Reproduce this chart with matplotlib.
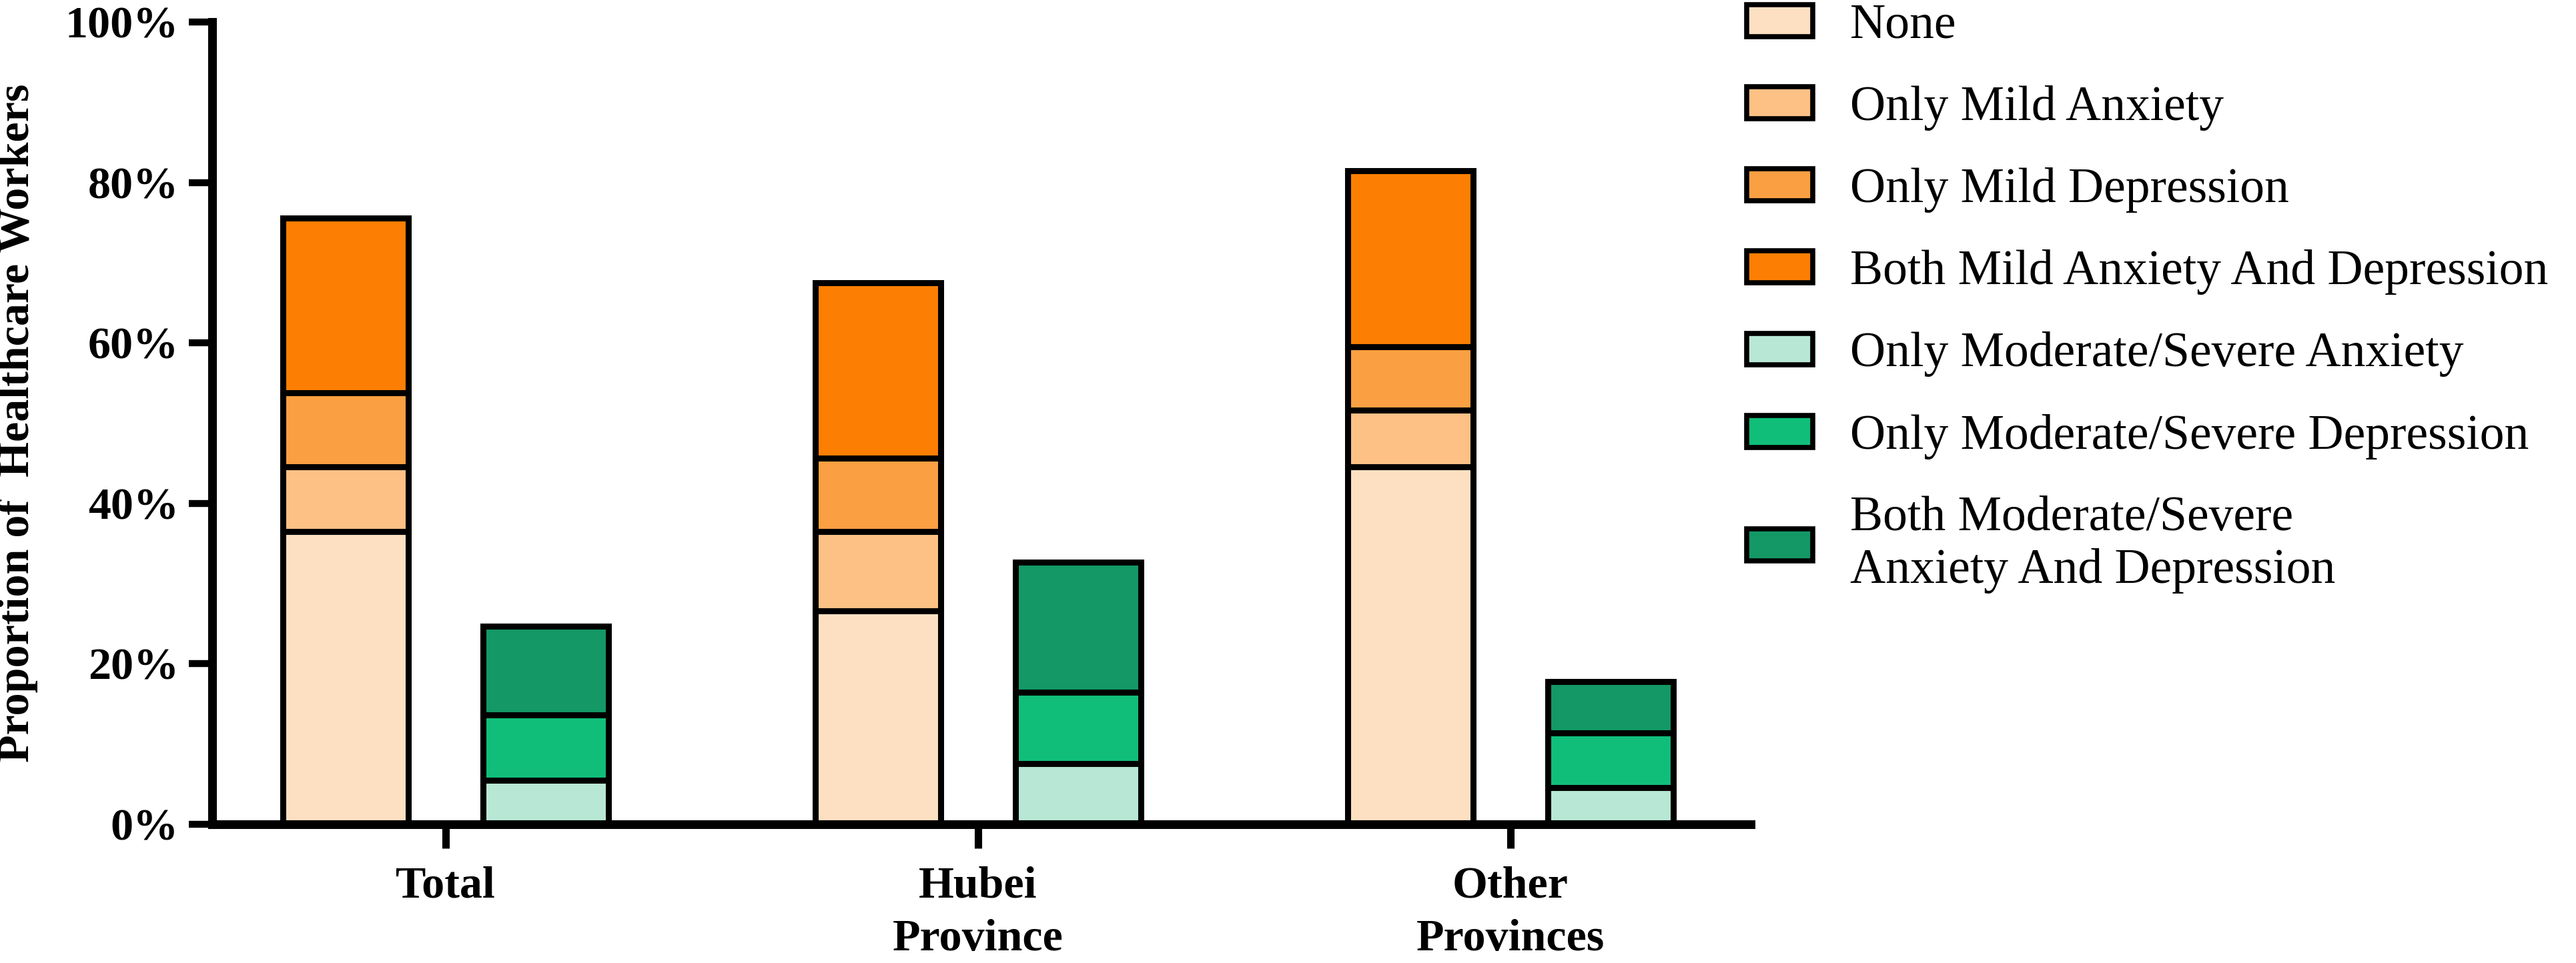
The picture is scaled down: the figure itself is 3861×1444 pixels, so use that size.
import numpy as np
import matplotlib
matplotlib.use('Agg')
import matplotlib.pyplot as plt
from matplotlib.patches import Patch

plt.rcParams['font.family'] = ['Liberation Serif', 'DejaVu Serif']

###########                 Data                 ###########
#----------------------------------------------------------#
groups = ['Total', 'Hubei\nProvince', 'Other\nProvinces']

# mild stack (left bar of each group), percent
none_vals = [36.5, 26.6, 44.6]
mild_anx = [8.1, 9.9, 7.0]
mild_dep = [9.2, 9.1, 7.9]
both_mild = [21.8, 21.9, 22.0]

# moderate/severe stack (right bar of each group), percent
mod_anx = [5.5, 7.6, 4.6]
mod_dep = [8.1, 8.9, 6.8]
both_mod = [11.1, 16.2, 6.4]

mild_labels = ['None', 'Only Mild Anxiety', 'Only Mild Depression',
               'Both Mild Anxiety And Depression']
mod_labels = ['Only Moderate/Severe Anxiety', 'Only Moderate/Severe Depression',
              'Both Moderate/Severe\nAnxiety And Depression']

mild_colors = ['#FDE0C1', '#FDC185', '#FBA042', '#FC7F03']
mod_colors = ['#B8E8D5', '#10BE7A', '#149866']

yticks = [0, 20, 40, 60, 80, 100]
ytick_labels = ['0%', '20%', '40%', '60%', '80%', '100%']

###########                 Figure               ###########
#----------------------------------------------------------#
fig = plt.figure(figsize=(38.62, 14.44), dpi=100)
ax = fig.add_axes([0.0823, 0.1440, 0.5971, 0.8331])

x = np.arange(len(groups))
width = 0.235
offset = 0.188
edge_lw = 6.5

bottom = np.zeros(len(groups))
for vals, col in zip([none_vals, mild_anx, mild_dep, both_mild], mild_colors):
    ax.bar(x - offset, vals, width, bottom=bottom, color=col,
           edgecolor='black', linewidth=edge_lw, clip_on=False)
    bottom += np.array(vals)

bottom = np.zeros(len(groups))
for vals, col in zip([mod_anx, mod_dep, both_mod], mod_colors):
    ax.bar(x + offset, vals, width, bottom=bottom, color=col,
           edgecolor='black', linewidth=edge_lw, clip_on=False)
    bottom += np.array(vals)

###########                  Axes                ###########
#----------------------------------------------------------#
ax.set_xlim(-0.4386, 2.451)
ax.set_ylim(0, 100)

for side in ['top', 'right']:
    ax.spines[side].set_visible(False)
for side in ['left', 'bottom']:
    ax.spines[side].set_linewidth(9.4)
    ax.spines[side].set_capstyle('projecting')

ax.set_yticks(yticks)
ax.set_yticklabels(ytick_labels)
ax.set_xticks(x)
ax.set_xticklabels(groups, linespacing=1.4)

ax.tick_params(axis='y', length=25, width=7.5, pad=11, labelsize=49)
ax.tick_params(axis='x', length=26, width=8, pad=19, labelsize=49)
for lab in ax.get_xticklabels() + ax.get_yticklabels():
    lab.set_fontweight('bold')

ax.set_ylabel('Proportion of  Healthcare Workers', fontsize=49, fontweight='bold')
ax.yaxis.set_label_coords(-0.113, 0.5)

###########                 Legend               ###########
#----------------------------------------------------------#
handles = [Patch(facecolor=c, edgecolor='black', linewidth=5.5)
           for c in mild_colors + mod_colors]
leg = fig.legend(handles, mild_labels + mod_labels, loc='upper left',
                 bbox_to_anchor=(2618 / 3862, 0.9965), frameon=False,
                 borderpad=0, borderaxespad=0, fontsize=53,
                 handlelength=1.345, handleheight=0.625, handletextpad=0.76,
                 labelspacing=0.75)
for t in leg.get_texts():
    t.set_linespacing(1.2)

fig.savefig('out.png', dpi=100)
